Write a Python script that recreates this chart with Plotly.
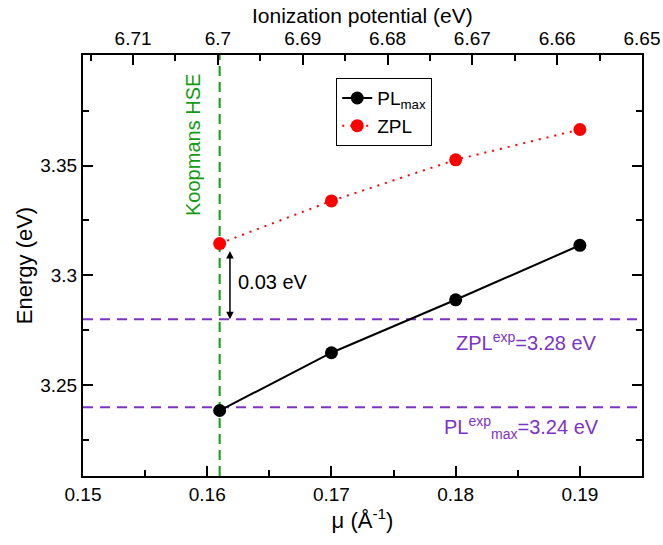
import plotly.graph_objects as go

mu = [0.161, 0.17, 0.18, 0.19]
pl_max = [3.2385, 3.2648, 3.2889, 3.3137]
zpl = [3.3145, 3.3339, 3.3526, 3.3664]
koopmans_mu = 0.161
zpl_exp = 3.28
pl_exp = 3.24
x_ticks = [0.15, 0.16, 0.17, 0.18, 0.19]
ip_ticks = [6.71, 6.70, 6.69, 6.68, 6.67, 6.66, 6.65]
ip_labels = ["6.71", "6.7", "6.69", "6.68", "6.67", "6.66", "6.65"]

FONT = "Liberation Sans, Arial, Helvetica, sans-serif"
PURPLE = "#7d33c6"
GREEN = "#149a14"

xr = [0.15, 0.195]
yr = [3.2087, 3.4003]

fig = go.Figure()

# reference lines
fig.add_trace(go.Scatter(x=xr, y=[zpl_exp, zpl_exp], mode="lines",
                         line=dict(color=PURPLE, width=2, dash="10px,7px"),
                         showlegend=False, hoverinfo="skip"))
fig.add_trace(go.Scatter(x=xr, y=[pl_exp, pl_exp], mode="lines",
                         line=dict(color=PURPLE, width=2, dash="10px,7px"),
                         showlegend=False, hoverinfo="skip"))
fig.add_trace(go.Scatter(x=[koopmans_mu, koopmans_mu], y=yr, mode="lines",
                         line=dict(color=GREEN, width=2, dash="10px,6px"),
                         showlegend=False, hoverinfo="skip"))

fig.add_trace(go.Scatter(x=mu, y=pl_max, mode="lines+markers", name="PL<sub>max</sub>",
                         line=dict(color="black", width=2),
                         marker=dict(color="black", size=13)))
fig.add_trace(go.Scatter(x=mu, y=zpl, mode="lines+markers", name="ZPL",
                         line=dict(color="red", width=2, dash="2px,6px"),
                         marker=dict(color="red", size=13)))

# invisible trace for top axis
fig.add_trace(go.Scatter(x=[6.70], y=[3.3], xaxis="x2", mode="markers",
                         marker=dict(opacity=0), showlegend=False, hoverinfo="skip"))

axis_common = dict(showline=True, linecolor="black", linewidth=2, ticks="inside",
                   tickcolor="black", tickwidth=2, ticklen=10, showgrid=False,
                   zeroline=False, automargin=False,
                   tickfont=dict(family=FONT, size=19, color="black"))

fig.update_layout(
    width=663, height=545,
    margin=dict(l=83, r=21, t=55, b=69),
    plot_bgcolor="white", paper_bgcolor="white",
    font=dict(family=FONT, color="black"),
    xaxis=dict(range=xr, tickvals=x_ticks, ticktext=["0.15", "0.16", "0.17", "0.18", "0.19"],
               minor=dict(dtick=0.005, tick0=0.15, ticks="inside", ticklen=6, tickwidth=2, tickcolor="black"),
               title=dict(text="μ (Å<sup>-1</sup>)", font=dict(family=FONT, size=22), standoff=8),
               mirror=False, **axis_common),
    xaxis2=dict(range=[6.7159, 6.65], overlaying="x", side="top", tickvals=ip_ticks, ticktext=ip_labels,
                minor=dict(dtick=0.005, tick0=6.65, ticks="inside", ticklen=6, tickwidth=2, tickcolor="black"),
                **axis_common),
    yaxis=dict(range=yr, tickvals=[3.25, 3.3, 3.35], ticktext=["3.25", "3.3", "3.35"],
               minor=dict(dtick=0.025, tick0=3.25, ticks="inside", ticklen=6, tickwidth=2, tickcolor="black"),
               title=dict(text="Energy (eV)", font=dict(family=FONT, size=22), standoff=2),
               mirror="ticks", **axis_common),
    legend=dict(x=0.453, y=0.945, xanchor="left", yanchor="top",
                bgcolor="white", bordercolor="black", borderwidth=1,
                font=dict(family=FONT, size=19, color="black"),
                tracegroupgap=0, itemwidth=30),
)

# top axis title
fig.add_annotation(x=0.5, y=1.0 + 39 / 421, xref="paper", yref="paper", text="Ionization potential (eV)",
                   showarrow=False, xanchor="center", yanchor="middle",
                   font=dict(family=FONT, size=21, color="black"))

fig.add_annotation(x=0.1588, y=3.3595, text="Koopmans HSE", textangle=-90, showarrow=False,
                   font=dict(family=FONT, size=20, color=GREEN))
fig.add_annotation(x=0.16527, y=3.2968, text="0.03 eV", showarrow=False,
                   font=dict(family=FONT, size=20, color="black"))
fig.add_annotation(x=0.16183, y=zpl_exp, ax=0.16183, ay=3.3118, xref="x", yref="y",
                   axref="x", ayref="y", text="", showarrow=True, arrowhead=2, arrowside="end+start",
                   arrowsize=1, arrowwidth=1.5, arrowcolor="black")
fig.add_annotation(x=0.18574, y=3.2697, text="ZPL<sup>exp</sup>=3.28 eV", showarrow=False,
                   font=dict(family=FONT, size=20, color=PURPLE))
fig.add_annotation(x=0.18533, y=3.231, text="PL<sup>exp</sup><sub>max</sub>=3.24 eV", showarrow=False,
                   font=dict(family=FONT, size=20, color=PURPLE))

fig.write_html("out.html", config={"displayModeBar": False},
               post_script="document.body.style.margin='0px';")
